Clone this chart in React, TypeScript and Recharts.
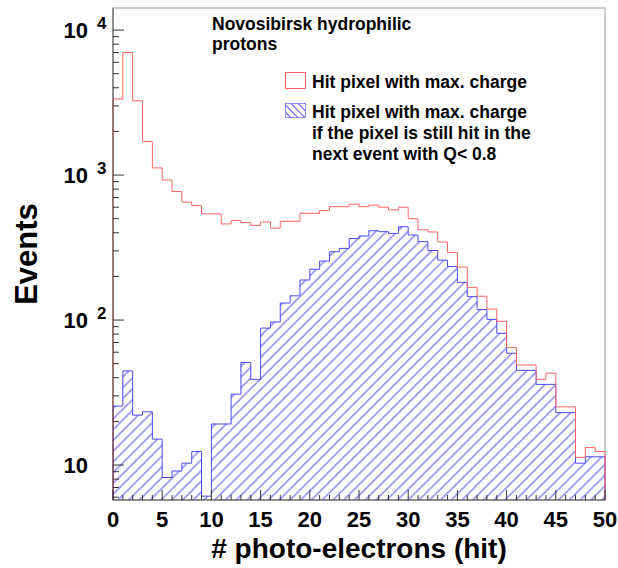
import React from "react";
import { ComposedChart, Area, Line, XAxis, YAxis, ReferenceArea } from "recharts";

// Histograms with 1 p.e. wide bins from 0 to 50
const binLowEdges = Array.from({ length: 50 }, (_, i) => i);

// Hit pixel with max. charge
const maxChargeHits = [
  3350, 7000, 3250, 1700, 1120, 925, 770, 650, 615, 540,
  540, 460, 485, 470, 450, 475, 430, 480, 480, 545,
  545, 570, 605, 605, 630, 605, 620, 600, 575, 600,
  500, 420, 405, 345, 292, 232, 168, 146, 119, 98,
  64.5, 49, 49, 39, 43, 25.2, 25.2, 11.3, 13.2, 12.4,
];

// Same pixel still hit in the next event with Q < 0.8
const stillHitNext = [
  25.5, 44.6, 22.1, 23.3, 15.1, 8.2, 9.1, 10.3, 12.4, 6.1,
  19.2, 19.2, 30.8, 51, 39, 88, 97, 131, 147, 189,
  224, 255, 296, 312, 365, 380, 413, 407, 396, 440,
  386, 347, 302, 259, 234, 182, 145, 118, 101, 81,
  59, 45, 45, 36, 36, 23, 23, 10.3, 11.4, 11.4,
];

const xTicks = Array.from({ length: 51 }, (_, i) => i);
const xLabelStep = 5;

const Y_MIN = 5.74;
const Y_MAX = 14200;
const decades = [1, 10, 100, 1000, 10000];
const yTicks = decades
  .flatMap((d) => [1, 2, 3, 4, 5, 6, 7, 8, 9].map((m) => m * d))
  .filter((v) => v >= Y_MIN && v <= Y_MAX);

const rows = [
  { x: 0, all: Y_MIN, still: Y_MIN },
  ...binLowEdges.map((x, i) => ({ x, all: maxChargeHits[i], still: stillHitNext[i] })),
  { x: 50, all: maxChargeHits[49], still: stillHitNext[49] },
  { x: 50, all: Y_MIN, still: Y_MIN },
];

const FONT = "'Liberation Sans', Arial, Helvetica, sans-serif";
const RED = "#ff6464";
const BLUE = "#4a4af0";

function XTick(props: any) {
  const { x, y, payload } = props;
  const v = payload.value as number;
  const major = v % xLabelStep === 0;
  return (
    <g>
      <line x1={x} x2={x} y1={y} y2={y - (major ? 10 : 5)} stroke="#333" strokeWidth={1} />
      {major && (
        <text x={x} y={y + 27} textAnchor="middle" fontFamily={FONT} fontWeight="bold" fontSize={22} fill="#000">
          {v}
        </text>
      )}
    </g>
  );
}

function YTick(props: any) {
  const { x, y, payload } = props;
  const v = payload.value as number;
  const exp = Math.round(Math.log10(v));
  const major = Math.abs(v - Math.pow(10, exp)) < 1e-6;
  return (
    <g>
      <line x1={x} x2={x + (major ? 11 : 6)} y1={y} y2={y} stroke="#333" strokeWidth={1} />
      {major && (
        <text x={x - 25} y={y + 8} textAnchor="end" fontFamily={FONT} fontWeight="bold" fontSize={22} fill="#000">
          10
        </text>
      )}
      {major && exp > 1 && (
        <text x={x - 16} y={y - 1} textAnchor="start" fontFamily={FONT} fontWeight="bold" fontSize={17} fill="#000">
          {exp}
        </text>
      )}
    </g>
  );
}

function Annotations() {
  const t = { fontFamily: FONT, fontWeight: "bold" as const, fontSize: 17.5, fill: "#000" };
  return (
    <svg width={618} height={568} style={{ position: "absolute", left: 0, top: 0, pointerEvents: "none" }}>
      <defs>
        <pattern id="legendHatch" patternUnits="userSpaceOnUse" width={5} height={5} patternTransform="rotate(-45)">
          <line x1={2.5} y1={0} x2={2.5} y2={5} stroke={BLUE} strokeWidth={1} />
        </pattern>
      </defs>
      <text x={212} y={30} {...t}>Novosibirsk hydrophilic</text>
      <text x={212} y={50} {...t}>protons</text>
      <rect x={285.5} y={72.5} width={20} height={16} fill="none" stroke={RED} strokeWidth={1} />
      <text x={312} y={88} {...t}>Hit pixel with max. charge</text>
      <rect x={285.5} y={103.5} width={20} height={14} fill="url(#legendHatch)" stroke={BLUE} strokeWidth={0.6} />
      <text x={312} y={118} {...t}>Hit pixel with max. charge</text>
      <text x={312} y={139} {...t}>if the pixel is still hit in the</text>
      <text x={312} y={160} {...t}>next event with Q&lt; 0.8</text>
    </svg>
  );
}

export default function App() {
  return (
    <div style={{ position: "absolute", left: 0, top: 0, width: 618, height: 568, background: "#fff" }}>
      <ComposedChart width={618} height={568} data={rows} margin={{ top: 8, right: 13, bottom: 0, left: 0 }}>
        <defs>
          <pattern id="hatch" patternUnits="userSpaceOnUse" width={7.6} height={7.6} patternTransform="rotate(45)">
            <line x1={3.8} y1={0} x2={3.8} y2={7.6} stroke={BLUE} strokeWidth={1} />
          </pattern>
        </defs>
        <XAxis
          dataKey="x"
          type="number"
          domain={[0, 50]}
          ticks={xTicks}
          interval={0}
          height={68}
          tickSize={0}
          tickMargin={0}
          tickLine={false}
          axisLine={{ stroke: "#555", strokeWidth: 1 }}
          tick={(p: any) => <XTick {...p} />}
          label={(p: any) => {
            const vb = p.viewBox;
            return (
              <text x={vb.x + vb.width / 2} y={vb.y + 58} textAnchor="middle" fontFamily={FONT} fontWeight="bold" fontSize={28} fill="#000">
                # photo-electrons (hit)
              </text>
            );
          }}
        />
        <YAxis
          type="number"
          scale="log"
          domain={[Y_MIN, Y_MAX]}
          allowDataOverflow
          ticks={yTicks}
          interval={0}
          width={113}
          tickSize={0}
          tickMargin={0}
          tickLine={false}
          axisLine={{ stroke: "#555", strokeWidth: 1 }}
          tick={(p: any) => <YTick {...p} />}
          label={(p: any) => {
            const vb = p.viewBox;
            const cx = vb.x + 37;
            const cy = vb.y + vb.height / 2;
            return (
              <text x={cx} y={cy} transform={`rotate(-90 ${cx} ${cy})`} textAnchor="middle" fontFamily={FONT} fontWeight="bold" fontSize={31} fill="#000">
                Events
              </text>
            );
          }}
        />
        <ReferenceArea x1={0} x2={50} y1={Y_MIN} y2={Y_MAX} fill="none" stroke="#cccccc" strokeWidth={2} />
        <Area
          type="stepAfter"
          dataKey="still"
          stroke={BLUE}
          strokeWidth={1}
          fill="url(#hatch)"
          fillOpacity={1}
          baseValue={Y_MIN}
          dot={false}
          activeDot={false}
          isAnimationActive={false}
        />
        <Line
          type="stepAfter"
          dataKey="all"
          stroke={RED}
          strokeWidth={1}
          dot={false}
          activeDot={false}
          isAnimationActive={false}
        />
      </ComposedChart>
      <Annotations />
    </div>
  );
}
